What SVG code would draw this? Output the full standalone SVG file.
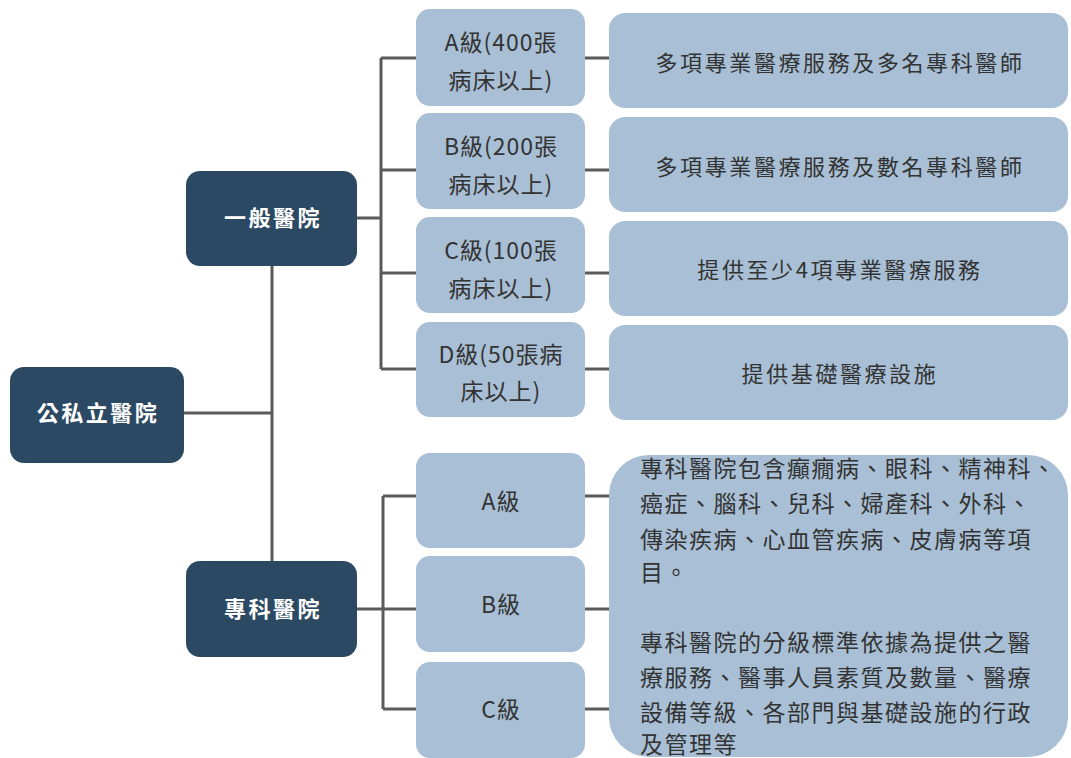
<svg xmlns="http://www.w3.org/2000/svg" width="1071" height="758" viewBox="0 0 1071 758">
<style>
.dark{fill:#2c4963;}
.light{fill:#a8bfd5;}
.wt{font-family:"Noto Sans CJK TC","Noto Sans CJK SC",sans-serif;font-size:22px;fill:#ffffff;font-weight:bold;text-anchor:middle;letter-spacing:2.5px;}
.gt{font-family:"Noto Sans CJK TC","Noto Sans CJK SC",sans-serif;font-size:23px;fill:#333333;text-anchor:middle;letter-spacing:1px;}
.dt{font-family:"Noto Sans CJK TC","Noto Sans CJK SC",sans-serif;font-size:22px;fill:#333333;text-anchor:middle;letter-spacing:2.6px;}
.pt{font-family:"Noto Sans CJK TC","Noto Sans CJK SC",sans-serif;font-size:23px;fill:#333333;letter-spacing:1.5px;}
.ln{stroke:#5a5a5a;stroke-width:3;fill:none;}
</style>
<rect width="1071" height="758" fill="#ffffff"/>
<g id="connectors">
<path class="ln" d="M184 413 H272 M272 266 V561 M357 218 H381 M381 58 V369 M381 58 H416 M381 170 H416 M381 273 H416 M381 369 H416 M585 58 H609 M585 170 H609 M585 273 H609 M585 369 H609 M357 609 H383 M383 496 V709 M383 496 H416 M383 609 H416 M383 709 H416 M585 496 H609 M585 609 H609 M585 709 H609"/>
</g>
<g id="root"><rect class="dark" x="10" y="367" width="174" height="96" rx="14"/><text class="wt" x="98" y="421">公私立醫院</text></g>
<g id="general"><rect class="dark" x="186" y="171" width="171" height="95" rx="14"/><text class="wt" x="273" y="226">一般醫院</text></g>
<g id="special"><rect class="dark" x="186" y="561" width="171" height="96" rx="14"/><text class="wt" x="273" y="617">專科醫院</text></g>
<g id="gA"><rect class="light" x="416" y="9" width="169" height="97" rx="14"/><text class="gt" x="501" y="51">A級(400張</text><text class="gt" x="501" y="89">病床以上)</text></g>
<g id="gB"><rect class="light" x="416" y="113" width="169" height="96" rx="14"/><text class="gt" x="501" y="155">B級(200張</text><text class="gt" x="501" y="193">病床以上)</text></g>
<g id="gC"><rect class="light" x="416" y="217" width="169" height="96" rx="14"/><text class="gt" x="501" y="259">C級(100張</text><text class="gt" x="501" y="297">病床以上)</text></g>
<g id="gD"><rect class="light" x="416" y="322" width="169" height="95" rx="14"/><text class="gt" x="501" y="363">D級(50張病</text><text class="gt" x="501" y="400">床以上)</text></g>
<g id="dA"><rect class="light" x="609" y="13" width="459" height="95" rx="16"/><text class="dt" x="840" y="71">多項專業醫療服務及多名專科醫師</text></g>
<g id="dB"><rect class="light" x="609" y="117" width="459" height="95" rx="16"/><text class="dt" x="840" y="175">多項專業醫療服務及數名專科醫師</text></g>
<g id="dC"><rect class="light" x="609" y="221" width="459" height="95" rx="16"/><text class="dt" x="840" y="278">提供至少4項專業醫療服務</text></g>
<g id="dD"><rect class="light" x="609" y="325" width="459" height="95" rx="16"/><text class="dt" x="840" y="382">提供基礎醫療設施</text></g>
<g id="sA"><rect class="light" x="416" y="453" width="169" height="95" rx="14"/><text class="gt" x="501" y="510">A級</text></g>
<g id="sB"><rect class="light" x="416" y="556" width="169" height="96" rx="14"/><text class="gt" x="501" y="613">B級</text></g>
<g id="sC"><rect class="light" x="416" y="662" width="169" height="96" rx="14"/><text class="gt" x="501" y="718">C級</text></g>
<g id="sDetail"><rect class="light" x="609" y="455" width="459" height="302" rx="40"/>
<text class="pt" x="640" y="477">專科醫院包含癲癇病、眼科、精神科、</text>
<text class="pt" x="640" y="512">癌症、腦科、兒科、婦產科、外科、</text>
<text class="pt" x="640" y="548">傳染疾病、心血管疾病、皮膚病等項</text>
<text class="pt" x="640" y="581">目。</text>
<text class="pt" x="640" y="651">專科醫院的分級標準依據為提供之醫</text>
<text class="pt" x="640" y="686">療服務、醫事人員素質及數量、醫療</text>
<text class="pt" x="640" y="721">設備等級、各部門與基礎設施的行政</text>
<text class="pt" x="640" y="753">及管理等</text>
</g>
</svg>
